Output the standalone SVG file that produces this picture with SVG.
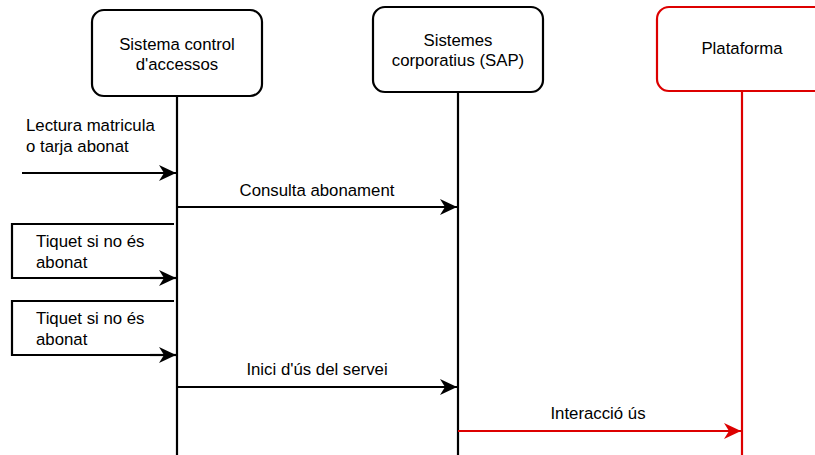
<svg xmlns="http://www.w3.org/2000/svg" width="815" height="455" viewBox="0 0 815 455">
  <style>
    text { font-family: "Liberation Sans", Arial, sans-serif; font-size: 16.8px; fill: #000; }
    .mid { text-anchor: middle; }
    .box { fill: #fff; stroke: #000; stroke-width: 2.2; }
    .box.red { stroke: #dd0000; }
    .life { fill: none; stroke: #000; stroke-width: 2.2; }
    .life.red { stroke: #dd0000; }
    .msg { fill: none; stroke: #000; stroke-width: 2.2; marker-end: url(#arr); }
    .msg.red { stroke: #dd0000; marker-end: url(#arrRed); }
    .loop { fill: none; stroke: #000; stroke-width: 2.2; }
  </style>
  <defs>
    <marker id="arr" markerUnits="userSpaceOnUse" viewBox="-18 -9 19 18" refX="0" refY="0" markerWidth="19" markerHeight="18" orient="auto">
      <path d="M0,0 L-17,-8 L-12,0 L-17,8 Z" fill="#000"/>
    </marker>
    <marker id="arrRed" markerUnits="userSpaceOnUse" viewBox="-18 -9 19 18" refX="0" refY="0" markerWidth="19" markerHeight="18" orient="auto">
      <path d="M0,0 L-17,-8 L-12,0 L-17,8 Z" fill="#dd0000"/>
    </marker>
  </defs>

  <!-- lifelines -->
  <g id="lifelines">
    <line class="life" x1="177" y1="96" x2="177" y2="455"/>
    <line class="life" x1="458" y1="93" x2="458" y2="455"/>
    <line class="life red" x1="742" y1="91" x2="742" y2="455"/>
  </g>

  <!-- participants -->
  <g id="control-accessos">
    <rect class="box" x="92" y="10" width="170" height="86" rx="12"/>
    <text class="mid" x="177" y="50">Sistema control</text>
    <text class="mid" x="177" y="70">d'accessos</text>
  </g>
  <g id="sistemes-corporatius">
    <rect class="box" x="373" y="7" width="170" height="85" rx="12"/>
    <text class="mid" x="458" y="46">Sistemes</text>
    <text class="mid" x="458" y="66">corporatius (SAP)</text>
  </g>
  <g id="plataforma">
    <rect class="box red" x="657" y="7" width="170" height="84" rx="12"/>
    <text class="mid" x="742" y="54">Plataforma</text>
  </g>

  <!-- messages -->
  <g id="connectors">
    <line class="msg" x1="22" y1="173" x2="176" y2="173"/>
    <line class="msg" x1="177" y1="207" x2="457" y2="207"/>
    <polyline class="loop" points="174,224 12,224 12,278 160,278"/>
    <line class="msg" x1="150" y1="278" x2="176" y2="278"/>
    <polyline class="loop" points="174,301 12,301 12,355 160,355"/>
    <line class="msg" x1="150" y1="355" x2="176" y2="355"/>
    <line class="msg" x1="177" y1="387" x2="457" y2="387"/>
    <line class="msg red" x1="458" y1="431" x2="741" y2="431"/>
  </g>

  <!-- message labels -->
  <g id="labels">
    <text x="26" y="131">Lectura matricula</text>
    <text x="26" y="152">o tarja abonat</text>
    <text class="mid" x="317" y="196">Consulta abonament</text>
    <text x="36" y="247">Tiquet si no és</text>
    <text x="36" y="268">abonat</text>
    <text x="36" y="324">Tiquet si no és</text>
    <text x="36" y="345">abonat</text>
    <text class="mid" x="317" y="375">Inici d'ús del servei</text>
    <text class="mid" x="598" y="419">Interacció ús</text>
  </g>
</svg>
